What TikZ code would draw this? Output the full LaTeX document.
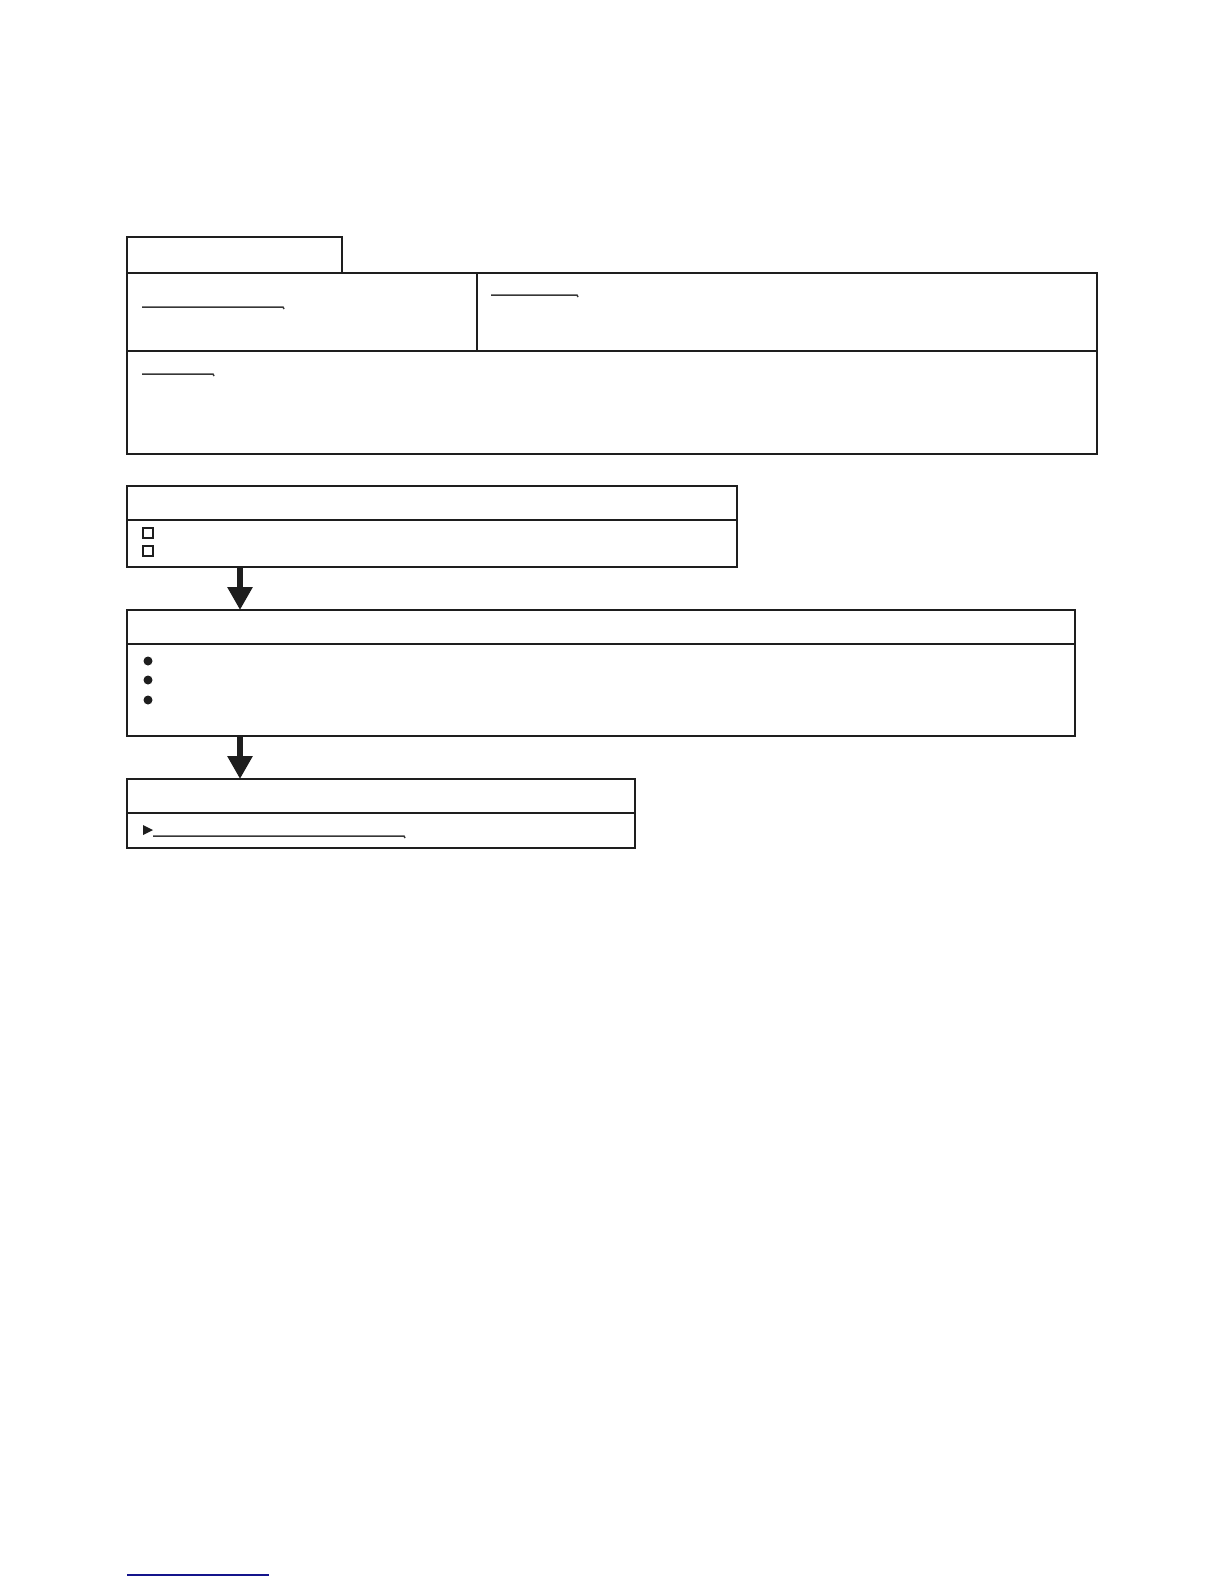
\documentclass[tikz,border=0pt]{standalone}
\usepackage{xcolor}
\usetikzlibrary{arrows.meta,positioning,calc}

\definecolor{linkblue}{RGB}{20,20,140}
\definecolor{rulegray}{RGB}{55,55,55}
\definecolor{inkgray}{RGB}{30,30,30}

\begin{document}
\begin{tikzpicture}[
    x=1pt, y=-1pt,
    >=Stealth,
    panel/.style={rectangle, draw=inkgray, line width=1.4pt, inner sep=0pt, outer sep=0pt, anchor=north west},
    flow/.style={inkgray, line width=6.5pt, -{Triangle[width=24pt,length=23pt]}},
    linkline/.style={rulegray, line width=1.5pt},
    boxmark/.style={rectangle, draw=inkgray, line width=1.9pt, minimum size=10pt, inner sep=0pt},
    dotmark/.style={circle, fill=inkgray, minimum size=9pt, inner sep=0pt}
]
\useasboundingbox (0,0) rectangle (1224,1584);

% Header tab and top panels
\node [panel, minimum width=215pt, minimum height=36pt] (tab) at (127,237) {};
\node [panel, minimum width=350pt, minimum height=78pt] (linkleft) at (tab.south west) {};
\node [panel, minimum width=620pt, minimum height=78pt] (linkright) at (linkleft.north east) {};
\node [panel, minimum width=970pt, minimum height=103pt] (linkwide) at (linkleft.south west) {};

% Link underlines
\draw [linkline] (142,307) -- (283,307) -- (284,309);
\draw [linkline] (491,295) -- (577,295) -- (578,297);
\draw [linkline] (142,374) -- (213,374) -- (214,376);

% Step 1
\node [panel, minimum width=610pt, minimum height=34pt, below right=32pt and 0pt of linkwide.south west] (firsthead) {};
\node [panel, minimum width=610pt, minimum height=47pt, below right=0pt and 0pt of firsthead.south west] (firstbody) {};
\node [boxmark] (checkA) at (148,533) {};
\node [boxmark] (checkB) at (148,551) {};

% Step 2
\node [panel, minimum width=948pt, minimum height=34pt, below right=43pt and 0pt of firstbody.south west] (secondhead) {};
\node [panel, minimum width=948pt, minimum height=92pt, below right=0pt and 0pt of secondhead.south west] (secondbody) {};
\node [dotmark] (dotA) at (148,661) {};
\node [dotmark] (dotB) at (148,680) {};
\node [dotmark] (dotC) at (148,700) {};

% Step 3
\node [panel, minimum width=508pt, minimum height=34pt, below right=43pt and 0pt of secondbody.south west] (thirdhead) {};
\node [panel, minimum width=508pt, minimum height=35pt, below right=0pt and 0pt of thirdhead.south west] (thirdbody) {};
\fill [inkgray] (143,825) -- (153,830) -- (143,835) -- cycle;
\draw [linkline] (153,836) -- (404,836) -- (405,838);

% Connections
\coordinate (flowx) at (240,0);
\draw [flow] (firstbody.south -| flowx) -- (secondhead.north -| flowx);
\draw [flow] (secondbody.south -| flowx) -- (thirdhead.north -| flowx);

% Footer rule
\coordinate (footleft) at (127,1575);
\coordinate (footright) at (269,1575);
\draw [linkblue, line width=1.3pt] (footleft) -- (footright);

\end{tikzpicture}
\end{document}
